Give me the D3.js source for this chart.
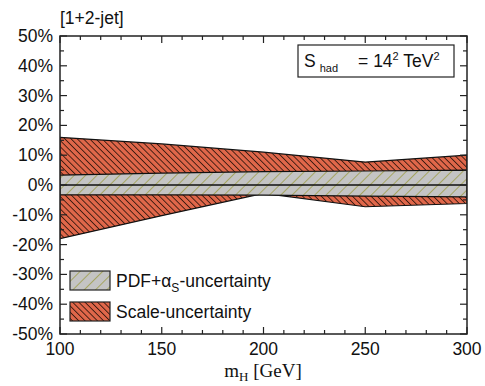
<!DOCTYPE html>
<html>
<head>
<meta charset="utf-8">
<script src="https://cdn.jsdelivr.net/npm/d3@7"></script>
<style>
  body { margin: 0; background: #fff; }
  text { font-family: "Liberation Sans", Arial, sans-serif; }
  text.serif { font-family: "Liberation Serif", "Times New Roman", serif; }
</style>
</head>
<body>
<svg id="chart" width="485" height="386"></svg>
<script>
// Higgs mass points [GeV]
var mH = [100, 150, 200, 250, 300];
// scale uncertainty band [%]
var scaleUp = [16, 13.8, 11, 7.7, 10];
var scaleDown = [-18, -10.3, -2.8, -7.3, -6.2];
// PDF + alpha_s uncertainty band [%]
var pdfUp = [3.3, 4.0, 4.5, 4.7, 5.0];
var pdfDown = [-3.3, -3.3, -3.4, -3.7, -4.0];

var xTicks = [100, 150, 200, 250, 300];
var yTicks = [-50, -40, -30, -20, -10, 0, 10, 20, 30, 40, 50];

var svg = d3.select("#chart");
var pl = 60, pr = 467, pt = 36, pb = 334;

var x = d3.scaleLinear().domain([100, 300]).range([pl, pr]);
var y = d3.scaleLinear().domain([-50, 50]).range([pb, pt]);

// hatch patterns
var defs = svg.append("defs");
var pScale = defs.append("pattern").attr("id", "hScale")
  .attr("patternUnits", "userSpaceOnUse").attr("width", 4.4).attr("height", 4.4)
  .attr("patternTransform", "rotate(-45)");
pScale.append("rect").attr("width", 4.4).attr("height", 4.4).attr("fill", "#e0674a");
pScale.append("line").attr("x1", 0).attr("y1", 0).attr("x2", 0).attr("y2", 4.4)
  .attr("stroke", "#3a1a10").attr("stroke-width", 1.8);

var pPdf = defs.append("pattern").attr("id", "hPdf")
  .attr("patternUnits", "userSpaceOnUse").attr("width", 8).attr("height", 8)
  .attr("patternTransform", "rotate(45)");
pPdf.append("rect").attr("width", 8).attr("height", 8).attr("fill", "#c4c4c4");
pPdf.append("line").attr("x1", 0).attr("y1", 0).attr("x2", 0).attr("y2", 8)
  .attr("stroke", "#8c8c10").attr("stroke-width", 1.1);

var pts = mH.map(function(m, i) {
  return { m: m, su: scaleUp[i], sd: scaleDown[i], pu: pdfUp[i], pd: pdfDown[i] };
});

defs.append("clipPath").attr("id", "clip").append("rect")
  .attr("x", pl).attr("y", pt).attr("width", pr - pl).attr("height", pb - pt);
var g = svg.append("g").attr("clip-path", "url(#clip)");

var scaleArea = d3.area().x(function(d) { return x(d.m); })
  .y0(function(d) { return y(d.sd); }).y1(function(d) { return y(d.su); });
var pdfArea = d3.area().x(function(d) { return x(d.m); })
  .y0(function(d) { return y(d.pd); }).y1(function(d) { return y(d.pu); });

g.append("path").datum(pts).attr("d", scaleArea)
  .attr("fill", "url(#hScale)").attr("stroke", "#111").attr("stroke-width", 1.2);
g.append("path").datum(pts).attr("d", pdfArea)
  .attr("fill", "url(#hPdf)").attr("stroke", "#111").attr("stroke-width", 1.2);
// central line
g.append("line").attr("x1", x(100)).attr("x2", x(300)).attr("y1", y(0)).attr("y2", y(0))
  .attr("stroke", "#111").attr("stroke-width", 1.5);

// frame
svg.append("rect").attr("x", pl).attr("y", pt).attr("width", pr - pl).attr("height", pb - pt)
  .attr("fill", "none").attr("stroke", "#222").attr("stroke-width", 1.5);

// ticks (inward, all four sides)
var ax = svg.append("g").attr("stroke", "#222").attr("stroke-width", 1.2);
d3.range(100, 301, 10).forEach(function(v) {
  var len = v % 50 === 0 ? 7 : 4;
  ax.append("line").attr("x1", x(v)).attr("x2", x(v)).attr("y1", pb).attr("y2", pb - len);
  ax.append("line").attr("x1", x(v)).attr("x2", x(v)).attr("y1", pt).attr("y2", pt + len);
});
d3.range(-50, 51, 5).forEach(function(v) {
  var len = v % 10 === 0 ? 7 : 4;
  ax.append("line").attr("x1", pl).attr("x2", pl + len).attr("y1", y(v)).attr("y2", y(v));
  ax.append("line").attr("x1", pr).attr("x2", pr - len).attr("y1", y(v)).attr("y2", y(v));
});

// tick labels
svg.append("g").selectAll("text").data(yTicks).join("text")
  .attr("x", pl - 7).attr("y", function(d) { return y(d) + 6; })
  .attr("text-anchor", "end").attr("font-size", 17.5).attr("fill", "#111")
  .text(function(d) { return d + "%"; });
svg.append("g").selectAll("text").data(xTicks).join("text")
  .attr("x", function(d) { return x(d); }).attr("y", pb + 21)
  .attr("text-anchor", "middle").attr("font-size", 17.5).attr("fill", "#111")
  .text(function(d) { return d; });

// x title
var xt = svg.append("text").attr("class", "serif").attr("x", 263).attr("y", 377)
  .attr("text-anchor", "middle").attr("font-size", 19).attr("fill", "#111");
xt.append("tspan").text("m");
xt.append("tspan").attr("font-size", 13).attr("dy", 4).text("H");
xt.append("tspan").attr("dy", -4).text(" [GeV]");

// top label
svg.append("text").attr("x", 60).attr("y", 24).attr("font-size", 17.5).attr("fill", "#111").text("[1+2-jet]");

// energy box
svg.append("rect").attr("x", 298).attr("y", 45).attr("width", 156).attr("height", 32)
  .attr("fill", "#fff").attr("stroke", "#222").attr("stroke-width", 1.2);
var st = svg.append("text").attr("x", 304).attr("y", 67).attr("font-size", 17.5).attr("fill", "#111");
st.append("tspan").text("S");
st.append("tspan").attr("font-size", 11).attr("dx", 4).attr("dy", 5).text("had");
st.append("tspan").attr("dx", 20).attr("dy", -5).text("= 14");
st.append("tspan").attr("font-size", 11).attr("dy", -7).text("2");
st.append("tspan").attr("dy", 7).text(" TeV");
st.append("tspan").attr("font-size", 11).attr("dy", -7).text("2");

// legend
var legend = [
  { fill: "url(#hPdf)", y: 271 },
  { fill: "url(#hScale)", y: 302 }
];
legend.forEach(function(l) {
  svg.append("rect").attr("x", 70).attr("y", l.y).attr("width", 40).attr("height", 19)
    .attr("fill", l.fill).attr("stroke", "#222").attr("stroke-width", 1.2);
});
var t1 = svg.append("text").attr("x", 116).attr("y", 287).attr("font-size", 17.5).attr("fill", "#111");
t1.append("tspan").text("PDF+");
t1.append("tspan").text("\u03b1");
t1.append("tspan").attr("font-size", 12).attr("dy", 5).text("S");
t1.append("tspan").attr("dy", -5).text("-uncertainty");
svg.append("text").attr("x", 116).attr("y", 318).attr("font-size", 17.5).attr("fill", "#111")
  .text("Scale-uncertainty");
</script>
</body>
</html>
